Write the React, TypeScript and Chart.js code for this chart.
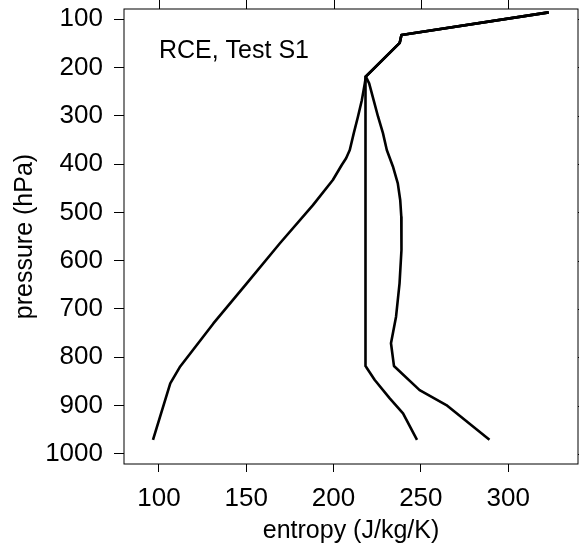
import React, { useEffect, useRef } from 'react';
import { Chart, registerables } from 'chart.js';

Chart.register(...registerables);

const FONT = "'Liberation Sans', Arial, Helvetica, sans-serif";

const xTickValues = [100, 150, 200, 250, 300];
const yTickValues = [100, 200, 300, 400, 500, 600, 700, 800, 900, 1000];

const xTitle = 'entropy (J/kg/K)';
const yTitle = 'pressure (hPa)';
const annotation = 'RCE, Test S1';

// curve 1 (left)
const leftPressure = [86, 133, 149, 219, 233, 268, 303, 336, 371, 388, 402, 433, 485, 564, 647, 730, 819, 854, 971];
const leftEntropy = [323.2, 238.9, 237.9, 218.5, 217.9, 216.2, 213.9, 211.6, 209.3, 207.2, 204.7, 199.6, 188.2, 169.3, 150.3, 131.2, 112.2, 106.5, 96.6];

// curve 2 (middle, vertical)
const midPressure = [86, 133, 149, 219, 818, 847, 885, 916, 971];
const midEntropy = [323.2, 238.9, 237.9, 218.3, 218.3, 223.6, 232.2, 239.8, 247.8];

// curve 3 (right)
const rightPressure = [86, 133, 149, 219, 233, 268, 302, 336, 371, 405, 440, 475, 509, 578, 647, 716, 771, 818, 868, 899, 971];
const rightEntropy = [323.2, 238.9, 237.9, 218.5, 220.4, 223.0, 225.5, 228.3, 230.5, 234.0, 236.8, 238.2, 238.8, 238.9, 237.8, 235.8, 232.9, 234.6, 249.3, 264.6, 289.3];

const toPoints = (xs: number[], ps: number[]) => xs.map((x, i) => ({ x, y: ps[i] }));

export default function App() {
  const ref = useRef<HTMLCanvasElement>(null);

  useEffect(() => {
    const canvas = ref.current;
    if (!canvas) return;

    const frame = {
      id: 'frame',
      afterDraw(chart: any) {
        const { ctx, chartArea } = chart;
        const xs = chart.scales.x;
        const ys = chart.scales.y;
        const { left, right, top, bottom } = chartArea;
        ctx.save();
        ctx.strokeStyle = '#000';
        ctx.lineWidth = 1;
        ctx.strokeRect(left, top, right - left, bottom - top);
        ctx.beginPath();
        for (const v of xTickValues) {
          const px = Math.round(xs.getPixelForValue(v)) + 0.5;
          ctx.moveTo(px, top);
          ctx.lineTo(px, top - 9);
        }
        for (const v of yTickValues) {
          const py = Math.round(ys.getPixelForValue(v)) + 0.5;
          ctx.moveTo(right, py);
          ctx.lineTo(right + 9, py);
        }
        ctx.stroke();
        ctx.fillStyle = '#000';
        ctx.font = `25px ${FONT}`;
        ctx.textBaseline = 'alphabetic';
        ctx.textAlign = 'left';
        ctx.fillText(annotation, xs.getPixelForValue(100), ys.getPixelForValue(180));
        ctx.restore();
      },
    };

    const ds = (xs: number[], ps: number[]) => ({
      data: toPoints(xs, ps),
      showLine: true,
      borderColor: '#000',
      borderWidth: 2.6,
      pointRadius: 0,
      tension: 0,
      fill: false,
      borderJoinStyle: 'round' as const,
      borderCapStyle: 'butt' as const,
    });

    const chart = new Chart(canvas, {
      type: 'scatter',
      data: {
        datasets: [ds(leftEntropy, leftPressure), ds(midEntropy, midPressure), ds(rightEntropy, rightPressure)],
      },
      options: {
        animation: false,
        responsive: false,
        events: [],
        layout: { padding: { top: 9, right: 1, left: 0, bottom: 0 } },
        plugins: { legend: { display: false }, tooltip: { enabled: false } },
        scales: {
          x: {
            type: 'linear',
            min: 80,
            max: 340,
            afterBuildTicks: (s: any) => {
              s.ticks = xTickValues.map((v) => ({ value: v }));
            },
            afterFit: (s: any) => {
              s.height = 88;
              s.paddingLeft = 0;
              s.paddingRight = 0;
            },
            ticks: {
              color: '#000',
              font: { family: FONT, size: 26 },
              padding: 11,
              maxRotation: 0,
              autoSkip: false,
              callback: (v: any) => String(v),
            },
            grid: { drawOnChartArea: false, drawTicks: true, tickLength: 8, color: '#000', lineWidth: 1 },
            border: { display: false },
            title: {
              display: true,
              text: xTitle,
              color: '#000',
              font: { family: FONT, size: 25 },
              padding: { top: 0, bottom: 6 },
            },
          },
          y: {
            type: 'linear',
            reverse: true,
            min: 79,
            max: 1021,
            afterBuildTicks: (s: any) => {
              s.ticks = yTickValues.map((v) => ({ value: v }));
            },
            afterFit: (s: any) => {
              s.width = 124;
              s.paddingTop = 0;
              s.paddingBottom = 0;
            },
            ticks: {
              color: '#000',
              font: { family: FONT, size: 26 },
              padding: 11,
              autoSkip: false,
              callback: (v: any) => String(v),
            },
            grid: { drawOnChartArea: false, drawTicks: true, tickLength: 10, color: '#000', lineWidth: 1 },
            border: { display: false },
            title: {
              display: true,
              text: yTitle,
              color: '#000',
              font: { family: FONT, size: 25 },
              padding: { top: 10.5, bottom: 0 },
            },
          },
        },
      },
      plugins: [frame],
    });

    return () => chart.destroy();
  }, []);

  return (
    <canvas
      ref={ref}
      width={579}
      height={552}
      style={{ position: 'absolute', left: 0, top: 0, display: 'block', width: 579, height: 552 }}
    />
  );
}
